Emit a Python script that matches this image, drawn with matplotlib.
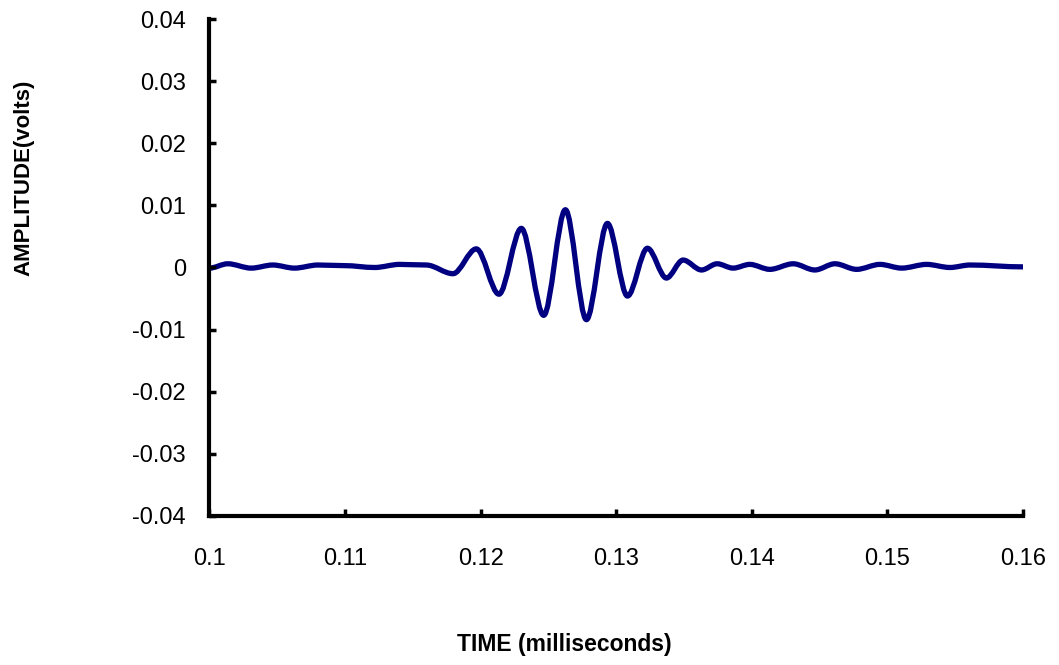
import matplotlib
matplotlib.use("Agg")
import matplotlib.pyplot as plt
from matplotlib.path import Path
from matplotlib.patches import PathPatch

plt.rcParams['font.family'] = ['Liberation Sans', 'DejaVu Sans']
plt.rcParams['axes.unicode_minus'] = False

# Waveform values (time in ms, amplitude in volts)
time_ms = [0.1000, 0.10135, 0.10308, 0.10467, 0.10627, 0.10799, 0.10996, 0.11218,
           0.11402, 0.11599, 0.11796, 0.11968, 0.12135, 0.12300, 0.12465, 0.12625,
           0.12780, 0.12935, 0.13083, 0.13230, 0.13370, 0.13493, 0.13629, 0.13744,
           0.13862, 0.13985, 0.14133, 0.14305, 0.14465, 0.14613, 0.14773, 0.14945,
           0.15105, 0.15289, 0.15461, 0.15609, 0.16000]
amplitude_v = [-0.0001, 0.0006, -0.0001, 0.0004, -0.0001, 0.0004, 0.0003, 0.0000,
               0.0005, 0.0004, -0.0010, 0.0030, -0.0043, 0.0063, -0.0077, 0.0093,
               -0.0084, 0.0071, -0.0046, 0.0031, -0.0017, 0.0012, -0.0004, 0.0006,
               -0.0001, 0.0005, -0.0003, 0.0006, -0.0004, 0.0006, -0.0003, 0.0005,
               -0.0001, 0.0005, 0.0000, 0.0004, 0.0001]

x_ticks = [0.10, 0.11, 0.12, 0.13, 0.14, 0.15, 0.16]
x_tick_labels = ["0.1", "0.11", "0.12", "0.13", "0.14", "0.15", "0.16"]
y_ticks = [0.04, 0.03, 0.02, 0.01, 0.0, -0.01, -0.02, -0.03, -0.04]
y_tick_labels = ["0.04", "0.03", "0.02", "0.01", "0", "-0.01", "-0.02", "-0.03", "-0.04"]

fig = plt.figure(figsize=(10.59, 6.65), dpi=100)
ax = fig.add_axes([0.1978, 0.2241, 0.966 - 0.1978, 0.9714 - 0.2241])

# smoothed line (Bezier through the read points, like a spreadsheet smoothed line)
verts = [(time_ms[0], amplitude_v[0])]
codes = [Path.MOVETO]
for i in range(1, len(time_ms)):
    t0, v0 = time_ms[i - 1], amplitude_v[i - 1]
    t1, v1 = time_ms[i], amplitude_v[i]
    dt = t1 - t0
    verts += [(t0 + dt / 3, v0), (t1 - dt / 3, v1), (t1, v1)]
    codes += [Path.CURVE4, Path.CURVE4, Path.CURVE4]
ax.add_patch(PathPatch(Path(verts, codes), facecolor='none', edgecolor='#000080',
                       lw=3.8, capstyle='round', joinstyle='round'))

ax.set_xlim(0.1, 0.16)
ax.set_ylim(-0.04, 0.04)
ax.set_xticks(x_ticks)
ax.set_xticklabels(x_tick_labels)
ax.set_yticks(y_ticks)
ax.set_yticklabels(y_tick_labels)

for s in ['top', 'right']:
    ax.spines[s].set_visible(False)
for s in ['left', 'bottom']:
    ax.spines[s].set_linewidth(3.0)
    ax.spines[s].set_color('black')

ax.tick_params(axis='both', direction='in', length=5, width=2.5, colors='black',
               labelsize=17)
ax.tick_params(axis='x', pad=23)
ax.tick_params(axis='y', pad=17)

fig.text(24 / 1059, 1 - 177.5 / 665, "AMPLITUDE(volts)", rotation=90,
         ha='center', va='center', fontsize=16, fontweight='bold')
fig.text(564 / 1059, 1 - 645 / 665, "TIME (milliseconds)",
         ha='center', va='center', fontsize=16.5, fontweight='bold')

fig.savefig("out.png", dpi=100)
